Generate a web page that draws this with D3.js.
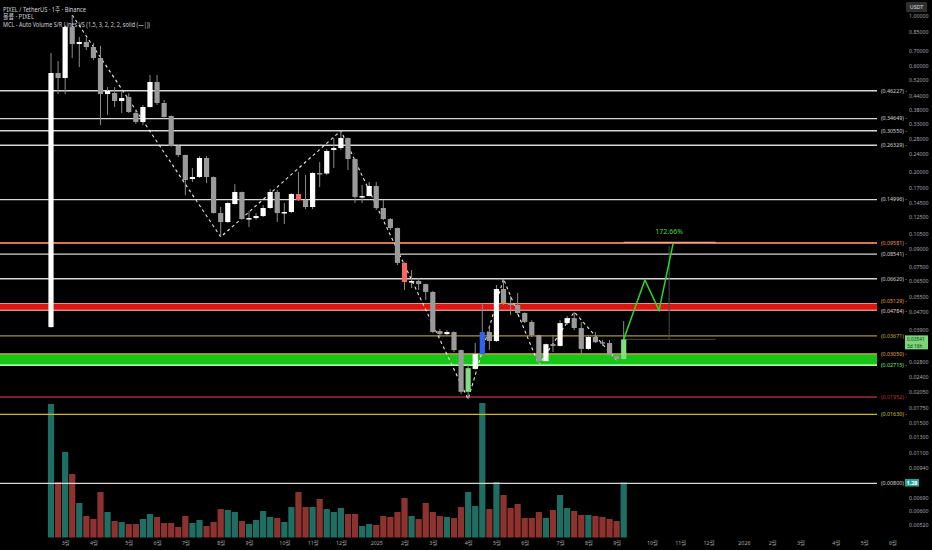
<!DOCTYPE html>
<html>
<head>
<meta charset="utf-8">
<script src="https://cdn.jsdelivr.net/npm/d3@7"></script>
<style>
  body { margin: 0; background: #000; overflow: hidden; }
  text { font-family: "Noto Sans", "Noto Sans CJK KR", sans-serif; }
</style>
</head>
<body>
<svg id="chart"></svg>
<script>
const chartWidth = 932;
const chartHeight = 550;

// weekly PIXEL/USDT candles, first bar = week of 2024-02-19
const firstWeek = new Date(2024, 1, 19);
const opens = [0.0402,0.555,0.527,0.8926,0.7488,0.7645,0.7259,0.648,0.4467,0.4513,
  0.4156,0.4331,0.3671,0.3345,0.3906,0.5057,0.4071,0.3559,0.2611,0.2379,
  0.1856,0.1895,0.2306,0.1895,0.1306,0.1190,0.1434,0.1623,0.1228,0.1240,
  0.1266,0.1376,0.1623,0.1313,0.1320,0.1590,0.1494,0.1390,0.1975,0.1965,
  0.2505,0.2557,0.2835,0.2282,0.1541,0.1557,0.1727,0.1376,0.1228,0.1119,
  0.0780,0.0640,0.0647,0.0627,0.0578,0.0386,0.0374,0.0382,0.0317,0.0206,
  0.0261,0.0304,0.0382,0.0348,0.0596,0.0516,0.0505,0.0465,0.0424,0.0370,
  0.0283,0.0337,0.0331,0.0419,0.0441,0.0398,0.0321,0.0363,0.0344,0.0341,
  0.0298,0.0289];
const highs = [0.682,0.628,0.911,1.010,0.805,0.797,0.757,0.734,0.480,0.480,
  0.456,0.451,0.379,0.399,0.544,0.544,0.420,0.358,0.264,0.239,
  0.208,0.235,0.235,0.1905,0.139,0.146,0.176,0.163,0.1334,0.1306,
  0.1419,0.1674,0.1657,0.1449,0.160,0.1995,0.1934,0.199,0.2213,0.253,
  0.2835,0.3055,0.285,0.229,0.1745,0.180,0.180,0.1494,0.124,0.1125,
  0.0785,0.0725,0.0667,0.0630,0.0584,0.0394,0.0390,0.0384,0.0319,0.0272,
  0.0341,0.0516,0.0406,0.0621,0.0662,0.0554,0.0572,0.0468,0.0432,0.0372,
  0.0339,0.0370,0.0432,0.0451,0.0470,0.0424,0.0370,0.0382,0.0352,0.0352,
  0.0301,0.0428];
const lows = [0.0400,0.447,0.447,0.648,0.590,0.704,0.635,0.324,0.360,0.391,
  0.367,0.367,0.328,0.324,0.388,0.399,0.350,0.259,0.233,0.157,
  0.180,0.188,0.178,0.130,0.102,0.118,0.142,0.122,0.1131,0.122,
  0.1253,0.1365,0.119,0.1166,0.1306,0.148,0.1361,0.1361,0.1709,0.1934,
  0.208,0.2505,0.2037,0.1449,0.1449,0.155,0.1347,0.1215,0.1096,0.0763,
  0.0590,0.0602,0.0590,0.0532,0.0378,0.0363,0.0370,0.0311,0.0201,0.0191,
  0.0259,0.0298,0.0317,0.0345,0.0505,0.0455,0.0455,0.0419,0.0363,0.0272,
  0.0280,0.0311,0.0329,0.0411,0.0390,0.0304,0.0317,0.0341,0.0331,0.0298,
  0.0286,0.0286];
const closes = [0.555,0.527,0.8926,0.7488,0.7645,0.7259,0.648,0.4467,0.4608,0.4156,
  0.4286,0.3709,0.3345,0.3906,0.5057,0.4071,0.3522,0.2611,0.2379,0.1837,
  0.1895,0.2306,0.1895,0.1306,0.1190,0.1449,0.1623,0.1228,0.1240,0.1266,
  0.1376,0.1623,0.1306,0.1320,0.1590,0.1494,0.1390,0.1975,0.1955,0.2479,
  0.2557,0.2835,0.2282,0.1541,0.1557,0.1727,0.1376,0.1228,0.1119,0.0780,
  0.0640,0.0647,0.0627,0.0578,0.0382,0.0374,0.0382,0.0317,0.0206,0.0263,
  0.0304,0.0382,0.0348,0.0596,0.0516,0.0505,0.0465,0.0424,0.0370,0.0283,
  0.0337,0.0331,0.0419,0.0441,0.0398,0.0321,0.0363,0.0344,0.0339,0.0301,
  0.0289,0.03541];
const volumes = [3.107,1.292,1.990,1.478,0.803,0.500,0.431,1.059,0.593,0.384,
  0.361,0.314,0.314,0.431,0.547,0.477,0.337,0.337,0.244,0.500,
  0.337,0.407,0.268,0.361,0.663,0.640,0.593,0.384,0.314,0.407,
  0.617,0.477,0.454,0.361,0.710,1.059,0.710,0.710,0.896,0.663,
  0.593,0.687,0.547,0.547,0.268,0.314,0.291,0.500,0.477,0.593,
  0.919,0.500,0.431,0.803,0.593,0.500,0.477,0.454,0.710,1.059,
  0.733,3.130,0.663,1.292,0.989,0.687,0.780,0.454,0.454,0.593,
  0.454,0.640,0.989,0.687,0.617,0.524,0.524,0.500,0.477,0.431,
  0.384,1.280];

// weeks the indicator paints a special candle colour
const signalWeeks = { 35: "sell", 50: "sell", 59: "buy", 61: "spike", 81: "buy" };
// zigzag swing points (week index, high or low)
const pivotWeeks = [3, 24, 41, 59, 64, 69, 74, 80];
const pivotSides = ["high", "low", "high", "low", "high", "low", "high", "low"];

// S/R levels from the indicator
const levels = [0.46227, 0.34649, 0.30550, 0.26329, 0.14996, 0.09581, 0.08541, 0.06620,
  0.05129, 0.04784, 0.03671, 0.03050, 0.02715, 0.01952, 0.01630, 0.00800];
const levelKinds = ["plain", "plain", "plain", "plain", "plain", "target", "plain", "plain",
  "resTop", "resBot", "mid", "supTop", "supBot", "floor", "yellow", "plain"];

// projected path drawn on the chart
const projWeeks = [81, 84, 86, 88];
const projPrices = [0.03541, 0.0654, 0.0478, 0.09581];
const projLabel = "172.66%";
const lastPrice = 0.03541;
const lastCountdown = "3d 16h";
const lastVolumeLabel = "1.28";

// 0.03300 and 0.00800 sit under the badges, so they are left out
const priceTicks = [1.0, 0.85, 0.70, 0.60, 0.52, 0.44, 0.38, 0.33, 0.28, 0.24, 0.20, 0.17,
  0.145, 0.125, 0.105, 0.09, 0.075, 0.065, 0.055, 0.047, 0.039, 0.028, 0.024,
  0.0205, 0.0175, 0.015, 0.013, 0.011, 0.0094, 0.0069, 0.006, 0.0052];
const monthTickDates = ["2024-03-04","2024-04-01","2024-05-06","2024-06-03","2024-07-01","2024-08-05",
  "2024-09-02","2024-10-07","2024-11-04","2024-12-02","2025-01-06","2025-02-03","2025-03-03",
  "2025-04-07","2025-05-05","2025-06-02","2025-07-07","2025-08-04","2025-09-01","2025-10-06",
  "2025-11-03","2025-12-01","2026-01-05","2026-02-02","2026-03-02","2026-04-06","2026-05-04","2026-06-01"];
const monthTickLabels = ["3월","4월","5월","6월","7월","8월","9월","10월","11월","12월","2025","2월","3월",
  "4월","5월","6월","7월","8월","9월","10월","11월","12월","2026","2월","3월","4월","5월","6월"];

const weekDate = i => d3.timeDay.offset(firstWeek, 7 * i);
const candles = opens.map((o, i) => ({
  i, date: weekDate(i), o, h: highs[i], l: lows[i], c: closes[i], v: volumes[i]
}));

const svg = d3.select("#chart")
  .attr("width", chartWidth)
  .attr("height", chartHeight)
  .style("background", "#000");

// scales
const x = d3.scaleTime()
  .domain([firstWeek, weekDate(81)])
  .range([51, 623.7]);
const y = d3.scaleLog()
  .domain([0.004644, 1.18])
  .range([536, 0]);
const yVol = d3.scaleLinear()
  .domain([0, 1.28])
  .range([537.5, 482.5]);

const lineEnd = 877;

// volume bars
svg.append("g").selectAll("rect")
  .data(candles)
  .enter()
  .append("rect")
  .attr("x", d => x(d.date) - 3.1)
  .attr("width", 6.2)
  .attr("y", d => yVol(d.v))
  .attr("height", d => yVol(0) - yVol(d.v))
  .attr("fill", d => d.c >= d.o ? "#1f6e63" : "#8c3330");

// bands
const bandColor = { res: "#dc1414", sup: "#19c419" };
const resTop = levels[levelKinds.indexOf("resTop")], resBot = levels[levelKinds.indexOf("resBot")];
const supTop = levels[levelKinds.indexOf("supTop")], supBot = levels[levelKinds.indexOf("supBot")];
svg.append("rect")
  .attr("x", 0).attr("width", lineEnd)
  .attr("y", y(resTop)).attr("height", y(resBot) - y(resTop))
  .attr("fill", bandColor.res);
svg.append("rect")
  .attr("x", 0).attr("width", lineEnd)
  .attr("y", y(supTop)).attr("height", y(supBot) - y(supTop))
  .attr("fill", bandColor.sup);

// level lines + labels
const levelStyle = {
  plain:  { stroke: "#d6d6d6", w: 1.4, label: "#d6d6d6" },
  target: { stroke: "#d8744f", w: 2,   label: "#e89a5a" },
  resTop: { stroke: "#e2a23a", w: 1,   label: "#e0a23a" },
  resBot: { stroke: "#f3c8c8", w: 1.2, label: "#e8d0d0" },
  mid:    { stroke: "#a89434", w: 1.3, label: "#c9b040" },
  supTop: { stroke: "#e0a040", w: 1.3, label: "#e0a83a" },
  supBot: { stroke: "#9cff9c", w: 1.6, label: "#7fe07f" },
  floor:  { stroke: "#a32a3a", w: 1.3, label: "#c0303a" },
  yellow: { stroke: "#cdb92e", w: 1.3, label: "#d0c040" }
};
const fmt5 = d3.format(".5f");
const levelG = svg.append("g");
levelG.selectAll("line")
  .data(levels)
  .enter()
  .append("line")
  .attr("x1", 0).attr("x2", lineEnd)
  .attr("y1", d => y(d)).attr("y2", d => y(d))
  .attr("stroke", (d, i) => levelStyle[levelKinds[i]].stroke)
  .attr("stroke-width", (d, i) => levelStyle[levelKinds[i]].w);
levelG.selectAll("text")
  .data(levels)
  .enter()
  .append("text")
  .attr("x", 881)
  .attr("y", (d, i) => y(d) + (levelKinds[i] === "resTop" ? -1 : levelKinds[i] === "resBot" ? 2.5 : 1.8))
  .style("font-size", "5.3px")
  .attr("fill", (d, i) => levelStyle[levelKinds[i]].label)
  .text(d => `(${fmt5(d)}) -`);

// target segment + measure lines
const measureWeek = d3.timeDay.offset(weekDate(87), 3);
svg.append("line")
  .attr("x1", x(weekDate(81))).attr("x2", x(weekDate(94)))
  .attr("y1", y(0.09581) - 0.6).attr("y2", y(0.09581) - 0.6)
  .attr("stroke", "#f2a48c").attr("stroke-width", 1.2);
svg.append("line")
  .attr("x1", x(weekDate(81))).attr("x2", x(weekDate(94)))
  .attr("y1", y(lastPrice)).attr("y2", y(lastPrice))
  .attr("stroke", "#4a4a4a").attr("stroke-width", 1);
svg.append("line")
  .attr("x1", x(measureWeek)).attr("x2", x(measureWeek))
  .attr("y1", y(0.093)).attr("y2", y(lastPrice))
  .attr("stroke", "#4a4a4a").attr("stroke-width", 1);

// zigzag
const zig = d3.line()
  .x(d => x(weekDate(d.i)))
  .y(d => y(d.side === "high" ? highs[d.i] : lows[d.i]));
svg.append("path")
  .datum(pivotWeeks.map((w, k) => ({ i: w, side: pivotSides[k] })))
  .attr("d", zig)
  .attr("fill", "none")
  .attr("stroke", "#e8e8e8")
  .attr("stroke-width", 1.1)
  .attr("stroke-dasharray", "3,3");

// candles
const signalColor = { sell: "#f06a6a", buy: "#80e080", spike: "#2c63f0" };
const candleG = svg.append("g").selectAll("g")
  .data(candles)
  .enter()
  .append("g");
candleG.append("line")
  .attr("x1", d => x(d.date)).attr("x2", d => x(d.date))
  .attr("y1", d => y(d.h)).attr("y2", d => y(d.l))
  .attr("stroke", "#8c8c8c")
  .attr("stroke-width", 1);
candleG.append("rect")
  .attr("x", d => x(d.date) - 2.6)
  .attr("width", 5.2)
  .attr("y", d => y(Math.max(d.o, d.c)))
  .attr("height", d => Math.max(1.5, Math.abs(y(d.o) - y(d.c))))
  .attr("fill", d => signalWeeks[d.i] ? signalColor[signalWeeks[d.i]] : (d.c >= d.o ? "#ffffff" : "#9a9a9a"));

// projection path
const proj = d3.line()
  .x(d => x(weekDate(d.w)))
  .y(d => y(d.p));
svg.append("path")
  .datum(projWeeks.map((w, k) => ({ w, p: projPrices[k] })))
  .attr("d", proj)
  .attr("fill", "none")
  .attr("stroke", "#2bd62b")
  .attr("stroke-width", 1.5);
svg.append("text")
  .attr("x", x(measureWeek))
  .attr("y", y(0.09581) - 9)
  .attr("text-anchor", "middle")
  .style("font-size", "7px")
  .attr("fill", "#3ddc3d")
  .text(projLabel);

// price axis
const yAxis = d3.axisRight(y)
  .tickValues(priceTicks)
  .tickFormat(fmt5)
  .tickSize(0)
  .tickPadding(0);
const yAxisG = svg.append("g")
  .attr("transform", "translate(909,0)")
  .call(yAxis);
yAxisG.select(".domain").remove();
yAxisG.selectAll("text")
  .attr("fill", "#a8a8a8")
  .style("font-size", "5.3px")
  .style("font-family", "'Noto Sans', sans-serif");

// time axis
const parseDay = d3.timeParse("%Y-%m-%d");
const xAxis = d3.axisBottom(x)
  .tickValues(monthTickDates.map(parseDay))
  .tickFormat((d, i) => monthTickLabels[i])
  .tickSize(0)
  .tickPadding(3);
const xAxisG = svg.append("g")
  .attr("transform", "translate(0,538)")
  .call(xAxis);
xAxisG.select(".domain").remove();
xAxisG.selectAll("text")
  .attr("fill", "#a8a8a8")
  .style("font-size", "5.3px")
  .style("font-family", "'Noto Sans', 'Noto Sans CJK KR', sans-serif");

// last price badge
const badgeY = y(lastPrice);
svg.append("rect")
  .attr("x", 905).attr("y", badgeY - 4)
  .attr("width", 23).attr("height", 14)
  .attr("fill", "#7bd67b");
svg.append("text")
  .attr("x", 907).attr("y", badgeY + 1.3)
  .style("font-size", "4.8px").attr("fill", "#0e3a0e")
  .text(fmt5(lastPrice));
svg.append("text")
  .attr("x", 907).attr("y", badgeY + 8.2)
  .style("font-size", "4.8px").attr("fill", "#0e3a0e")
  .text(lastCountdown);

// last volume badge
svg.append("rect")
  .attr("x", 905).attr("y", yVol(1.28) - 3.5)
  .attr("width", 14).attr("height", 7.5)
  .attr("fill", "#26a69a");
svg.append("text")
  .attr("x", 912).attr("y", yVol(1.28) + 2)
  .attr("text-anchor", "middle")
  .style("font-size", "5.5px").style("font-weight", "bold").attr("fill", "#ffffff")
  .text(lastVolumeLabel);

// currency box
svg.append("rect")
  .attr("x", 906).attr("y", 2)
  .attr("width", 21).attr("height", 10)
  .attr("rx", 1)
  .attr("fill", "#2e2e2e");
svg.append("text")
  .attr("x", 916.5).attr("y", 9)
  .attr("text-anchor", "middle")
  .style("font-size", "5.3px").attr("fill", "#e0e0e0")
  .text("USDT");

// header
const headerLines = [
  "PIXEL / TetherUS · 1주 · Binance",
  "볼륨 · PIXEL",
  "MCL - Auto Volume S/R Lines VS (1.5, 3, 2, 2, 2, solid (—|))"
];
const headerWidths = [83, 31, 147];
svg.append("g").selectAll("text")
  .data(headerLines)
  .enter()
  .append("text")
  .attr("x", 3)
  .attr("y", (d, i) => 12 + i * 7.4)
  .attr("textLength", (d, i) => headerWidths[i])
  .attr("lengthAdjust", "spacingAndGlyphs")
  .style("font-size", "6.4px")
  .attr("fill", "#d1d4dc")
  .text(d => d);
</script>
</body>
</html>
